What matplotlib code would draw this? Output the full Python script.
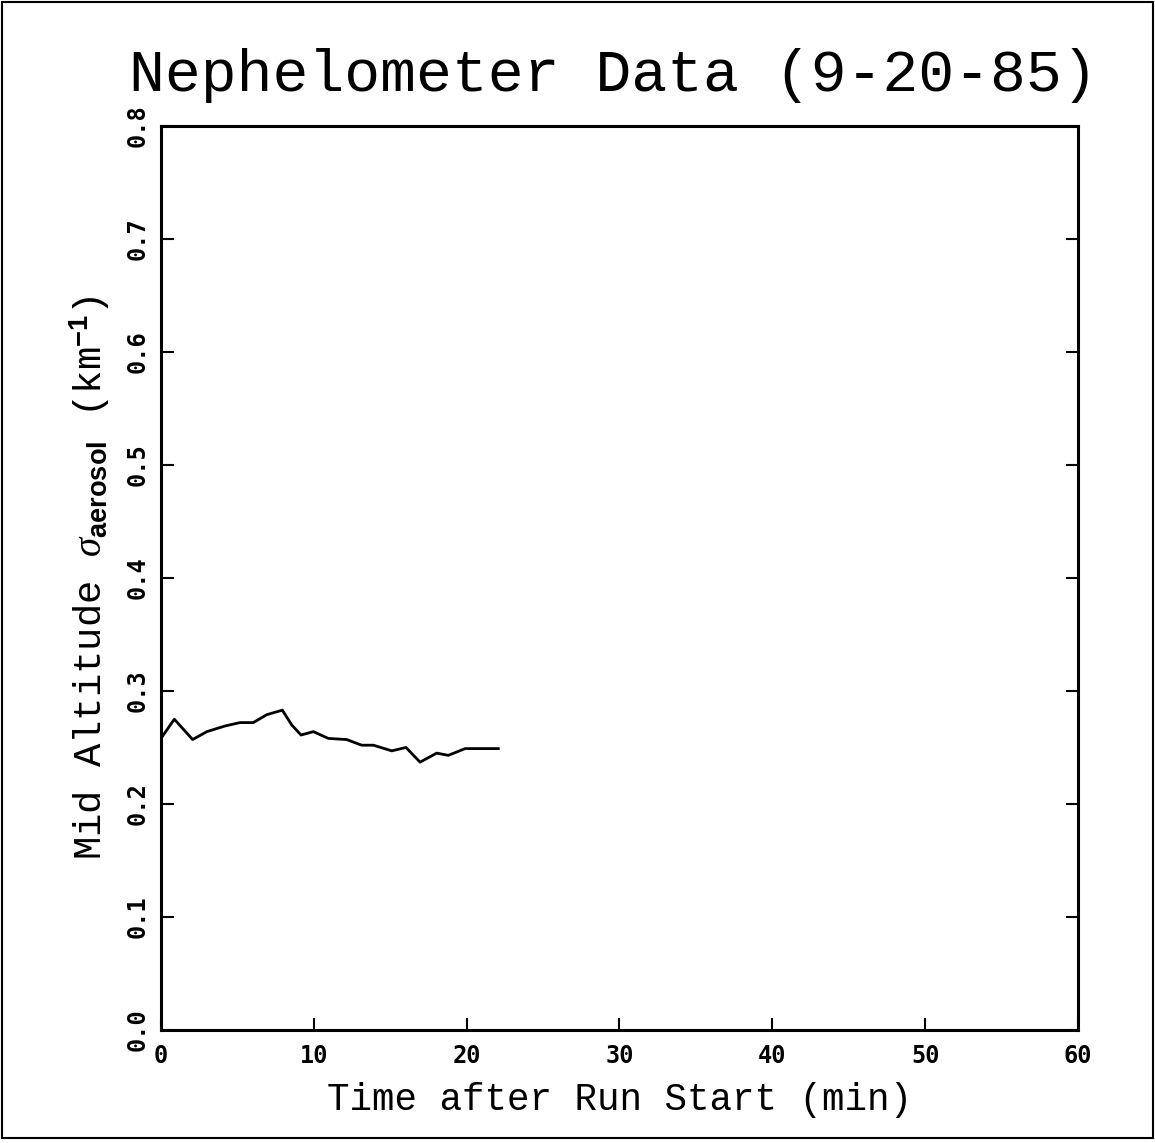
import matplotlib
matplotlib.use("Agg")
import matplotlib.pyplot as plt
from matplotlib.patches import Rectangle

# Nephelometer record, mid altitude aerosol extinction
time_min = [0.0, 0.87, 2.07, 3.0, 4.19, 5.17, 6.04, 6.92, 7.94, 8.55, 9.16, 9.97,
            10.95, 12.15, 13.13, 13.9, 15.1, 16.03, 16.95, 18.04, 18.8, 19.9, 22.07]
sigma_aerosol = [0.258, 0.275, 0.257, 0.264, 0.269, 0.272, 0.272, 0.279, 0.283, 0.270,
                 0.261, 0.264, 0.258, 0.257, 0.252, 0.252, 0.247, 0.250, 0.237, 0.245,
                 0.243, 0.249, 0.249]

x_ticks = [0, 10, 20, 30, 40, 50, 60]
y_ticks = [0.0, 0.1, 0.2, 0.3, 0.4, 0.5, 0.6, 0.7, 0.8]
y_tick_labels = ["0.0", "0.1", "0.2", "0.3", "0.4", "0.5", "0.6", "0.7", "0.8"]

plt.rcParams["mathtext.fontset"] = "custom"
plt.rcParams["mathtext.rm"] = "Liberation Serif"
plt.rcParams["mathtext.it"] = "Liberation Serif:italic"
plt.rcParams["mathtext.bf"] = "Liberation Sans:bold"

fig = plt.figure(figsize=(11.55, 11.43), dpi=100)
ax = fig.add_axes([0.1394, 0.0989, 0.7939, 0.7909])

ax.plot(time_min, sigma_aerosol, color="black", linewidth=2.0)

ax.set_xlim(0, 60)
ax.set_ylim(0, 0.8)
ax.set_xticks(x_ticks)
ax.set_yticks(y_ticks)
ax.set_xticklabels([str(t) for t in x_ticks], fontfamily="DejaVu Sans Mono",
                   fontweight="bold", fontsize=17)
ax.set_yticklabels(y_tick_labels, fontfamily="DejaVu Sans Mono", fontweight="bold",
                   fontsize=17, rotation=90, va="center")
ax.tick_params(axis="both", direction="in", length=9, width=1.5, color="black")
ax.tick_params(axis="x", pad=10, top=False)
ax.tick_params(axis="y", pad=8, right=True)
for spine in ax.spines.values():
    spine.set_linewidth(2.2)

ax.set_xlabel("Time after Run Start (min)", fontfamily="Liberation Mono",
              fontsize=27, labelpad=10)
ax.set_ylabel(r"Mid Altitude $\sigma_{\mathbf{aerosol}}$ (km$^{\mathbf{-1}}$)",
              fontfamily="Liberation Mono", fontsize=28, labelpad=10)
fig.text(0.531, 0.934, "Nephelometer Data (9-20-85)", fontfamily="Liberation Mono",
         fontsize=43, ha="center", va="center")

# page border
fig.patches.append(Rectangle((0.002, 0.004), 0.996, 0.994, transform=fig.transFigure,
                             fill=False, edgecolor="black", linewidth=1.5))

fig.savefig("out.png", dpi=100)
